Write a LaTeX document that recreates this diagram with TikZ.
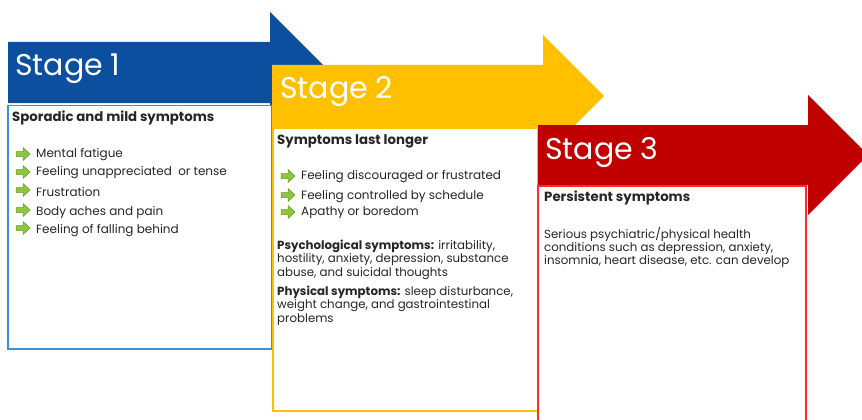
\documentclass[tikz,border=0pt]{standalone}
\usepackage{fontspec}
\setmainfont{Poppins}
\definecolor{sblue}{HTML}{0D4F9F}
\definecolor{sblueline}{HTML}{3E8EDE}
\definecolor{syellow}{HTML}{FFC000}
\definecolor{sred}{HTML}{C00000}
\definecolor{sredline}{HTML}{FF2A2A}
\definecolor{gfill}{HTML}{8DC63F}
\definecolor{gline}{HTML}{6B9A2A}
\definecolor{txt}{HTML}{262626}
\tikzset{
  stitle/.style={anchor=west,inner sep=0pt,text=white,font=\fontsize{30}{32}\selectfont},
  shead/.style={anchor=west,inner sep=0pt,text=txt,font=\fontsize{13.3}{15}\selectfont\bfseries},
  sitem/.style={anchor=west,inner sep=0pt,text=txt,font=\fontsize{12}{14}\selectfont},
  spara/.style={anchor=north west,inner sep=0pt,text=txt,align=left,font=\fontsize{11.8}{13.3}\selectfont},
  gicon/.pic={\path[fill=gfill,draw=gline,line width=0.5pt] (0,-2.5) -- (7,-2.5) -- (7,-6.5) -- (14,0) -- (7,6.5) -- (7,2.5) -- (0,2.5) -- cycle;}
}
\begin{document}
\begin{tikzpicture}[x=1pt,y=-1pt]
\useasboundingbox (0,0) rectangle (862,420);
\clip (0,0) rectangle (862,420);
% Stage 1
\fill[sblue] (8,42) -- (270,42) -- (270,12) -- (330,72) -- (270,132) -- (270,103) -- (8,103) -- cycle;
\draw[sblueline,fill=white,line width=1.3pt] (8,105.5) rectangle (272,349);
\node[stitle] (s1) at (15,69) {Stage 1};
\node[shead] (h1) at (12,118) {Sporadic and mild symptoms};
\pic at (16,154) {gicon}; \node[sitem] (a1) at (36,155) {Mental fatigue};
\pic at (16,172) {gicon}; \node[sitem] (a2) at (36,173) {Feeling unappreciated\ \ or tense};
\pic at (16,190) {gicon}; \node[sitem] (a3) at (36,192) {Frustration};
\pic at (16,210) {gicon}; \node[sitem] (a4) at (36,212) {Body aches and pain};
\pic at (16,228) {gicon}; \node[sitem] (a5) at (36,231) {Feeling of falling behind};
% Stage 2
\fill[syellow] (272,65) -- (543,65) -- (543,35) -- (604,96) -- (543,157) -- (543,127) -- (272,127) -- cycle;
\draw[syellow,fill=white,line width=1.3pt] (273,128) rectangle (538,411);
\node[stitle] (s2) at (280,92) {Stage 2};
\node[shead] (h2) at (277,141) {Symptoms last longer};
\pic at (281,176) {gicon}; \node[sitem] (b1) at (301,177) {Feeling discouraged or frustrated};
\pic at (281,195) {gicon}; \node[sitem] (b2) at (301,197) {Feeling controlled by schedule};
\pic at (281,212) {gicon}; \node[sitem] (b3) at (301,213) {Apathy or boredom};
\node[spara] (p1) at (277,240) {\textbf{Psychological symptoms:} irritability,\\hostility, anxiety, depression, substance\\abuse, and suicidal thoughts};
\node[spara] (p2) at (277,286) {\textbf{Physical symptoms:} sleep disturbance,\\weight change, and gastrointestinal\\problems};
% Stage 3
\fill[sred] (538,125) -- (808,125) -- (808,95) -- (868,155) -- (808,215) -- (808,185) -- (538,185) -- cycle;
\draw[sredline,fill=white,line width=1.3pt] (538,186) rectangle (806,430);
\node[stitle] (s3) at (545,152) {Stage 3};
\node[shead] (h3) at (544,198) {Persistent symptoms};
\node[spara] (p3) at (544,227) {Serious psychiatric/physical health\\conditions such as depression, anxiety,\\insomnia, heart disease, etc. can develop};
\end{tikzpicture}
\end{document}
